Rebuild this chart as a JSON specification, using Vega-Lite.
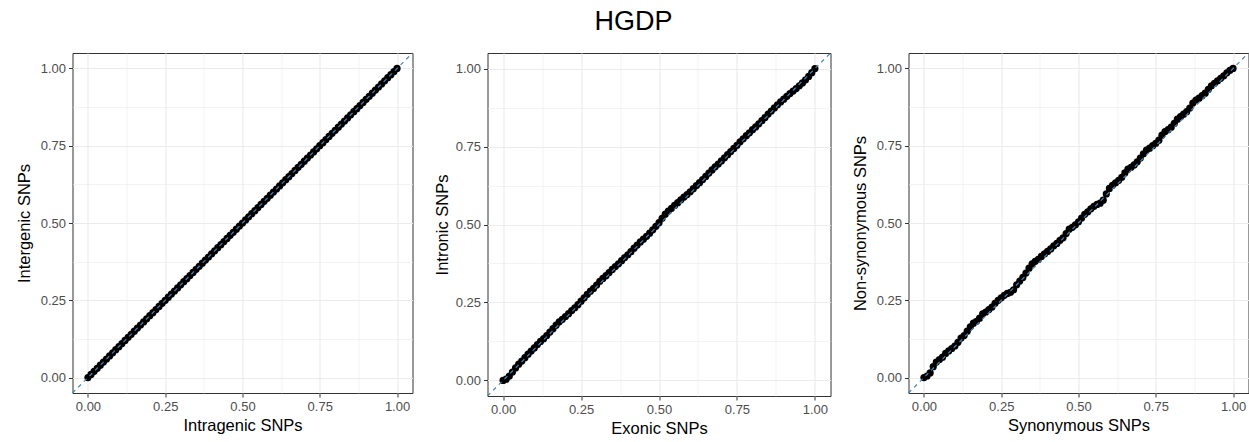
{
  "$schema": "https://vega.github.io/schema/vega-lite/v6.json",
  "background": "white",
  "padding": {"left": 15.5, "top": 8, "right": 2, "bottom": 2},
  "title": {"text": "HGDP", "fontSize": 27, "font": "Liberation Sans", "fontWeight": "normal", "anchor": "middle", "offset": 14, "color": "black"},
  "config": {
    "font": "Liberation Sans",
    "view": {"stroke": "#333333", "strokeWidth": 1},
    "axis": {
      "domain": false,
      "grid": true,
      "gridColor": "#EBEBEB",
      "tickColor": "#333333",
      "tickSize": 4,
      "labelPadding": 3,
      "labelColor": "#4D4D4D",
      "labelFontSize": 13,
      "labelFont": "Liberation Sans",
      "labelFlush": false,
      "labelOverlap": false,
      "titleFont": "Liberation Sans",
      "titleFontSize": 16.5,
      "titleFontWeight": "normal",
      "titleColor": "black"
    }
  },
  "datasets": {
    "diag": [{"x": -0.05, "y": -0.05}, {"x": 1.05, "y": 1.05}],
    "p1": [
      {"x":0.00,"y":0.00},{"x":0.01,"y":0.01},{"x":0.02,"y":0.02},{"x":0.03,"y":0.03},{"x":0.04,"y":0.04},{"x":0.05,"y":0.05},{"x":0.06,"y":0.06},{"x":0.07,"y":0.07},{"x":0.08,"y":0.08},{"x":0.09,"y":0.09},
      {"x":0.10,"y":0.10},{"x":0.11,"y":0.11},{"x":0.12,"y":0.12},{"x":0.13,"y":0.13},{"x":0.14,"y":0.14},{"x":0.15,"y":0.15},{"x":0.16,"y":0.16},{"x":0.17,"y":0.17},{"x":0.18,"y":0.18},{"x":0.19,"y":0.19},
      {"x":0.20,"y":0.20},{"x":0.21,"y":0.21},{"x":0.22,"y":0.22},{"x":0.23,"y":0.23},{"x":0.24,"y":0.24},{"x":0.25,"y":0.25},{"x":0.26,"y":0.26},{"x":0.27,"y":0.27},{"x":0.28,"y":0.28},{"x":0.29,"y":0.29},
      {"x":0.30,"y":0.30},{"x":0.31,"y":0.31},{"x":0.32,"y":0.32},{"x":0.33,"y":0.33},{"x":0.34,"y":0.34},{"x":0.35,"y":0.35},{"x":0.36,"y":0.36},{"x":0.37,"y":0.37},{"x":0.38,"y":0.38},{"x":0.39,"y":0.39},
      {"x":0.40,"y":0.40},{"x":0.41,"y":0.41},{"x":0.42,"y":0.42},{"x":0.43,"y":0.43},{"x":0.44,"y":0.44},{"x":0.45,"y":0.45},{"x":0.46,"y":0.46},{"x":0.47,"y":0.47},{"x":0.48,"y":0.48},{"x":0.49,"y":0.49},
      {"x":0.50,"y":0.50},{"x":0.51,"y":0.51},{"x":0.52,"y":0.52},{"x":0.53,"y":0.53},{"x":0.54,"y":0.54},{"x":0.55,"y":0.55},{"x":0.56,"y":0.56},{"x":0.57,"y":0.57},{"x":0.58,"y":0.58},{"x":0.59,"y":0.59},
      {"x":0.60,"y":0.60},{"x":0.61,"y":0.61},{"x":0.62,"y":0.62},{"x":0.63,"y":0.63},{"x":0.64,"y":0.64},{"x":0.65,"y":0.65},{"x":0.66,"y":0.66},{"x":0.67,"y":0.67},{"x":0.68,"y":0.68},{"x":0.69,"y":0.69},
      {"x":0.70,"y":0.70},{"x":0.71,"y":0.71},{"x":0.72,"y":0.72},{"x":0.73,"y":0.73},{"x":0.74,"y":0.74},{"x":0.75,"y":0.75},{"x":0.76,"y":0.76},{"x":0.77,"y":0.77},{"x":0.78,"y":0.78},{"x":0.79,"y":0.79},
      {"x":0.80,"y":0.80},{"x":0.81,"y":0.81},{"x":0.82,"y":0.82},{"x":0.83,"y":0.83},{"x":0.84,"y":0.84},{"x":0.85,"y":0.85},{"x":0.86,"y":0.86},{"x":0.87,"y":0.87},{"x":0.88,"y":0.88},{"x":0.89,"y":0.89},
      {"x":0.90,"y":0.90},{"x":0.91,"y":0.91},{"x":0.92,"y":0.92},{"x":0.93,"y":0.93},{"x":0.94,"y":0.94},{"x":0.95,"y":0.95},{"x":0.96,"y":0.96},{"x":0.97,"y":0.97},{"x":0.98,"y":0.98},{"x":0.99,"y":0.99},
      {"x":1.00,"y":1.00}
    ],
    "p2": [
      {"x":0.00,"y":0.000},{"x":0.01,"y":0.004},{"x":0.02,"y":0.014},{"x":0.03,"y":0.027},{"x":0.04,"y":0.040},{"x":0.05,"y":0.052},{"x":0.06,"y":0.062},{"x":0.07,"y":0.073},{"x":0.08,"y":0.084},{"x":0.09,"y":0.094},
      {"x":0.10,"y":0.104},{"x":0.11,"y":0.115},{"x":0.12,"y":0.125},{"x":0.13,"y":0.134},{"x":0.14,"y":0.144},{"x":0.15,"y":0.155},{"x":0.16,"y":0.166},{"x":0.17,"y":0.177},{"x":0.18,"y":0.188},{"x":0.19,"y":0.196},
      {"x":0.20,"y":0.205},{"x":0.21,"y":0.214},{"x":0.22,"y":0.224},{"x":0.23,"y":0.233},{"x":0.24,"y":0.243},{"x":0.25,"y":0.254},{"x":0.26,"y":0.265},{"x":0.27,"y":0.276},{"x":0.28,"y":0.286},{"x":0.29,"y":0.295},
      {"x":0.30,"y":0.306},{"x":0.31,"y":0.318},{"x":0.32,"y":0.327},{"x":0.33,"y":0.336},{"x":0.34,"y":0.346},{"x":0.35,"y":0.356},{"x":0.36,"y":0.365},{"x":0.37,"y":0.374},{"x":0.38,"y":0.384},{"x":0.39,"y":0.394},
      {"x":0.40,"y":0.403},{"x":0.41,"y":0.413},{"x":0.42,"y":0.424},{"x":0.43,"y":0.434},{"x":0.44,"y":0.444},{"x":0.45,"y":0.453},{"x":0.46,"y":0.462},{"x":0.47,"y":0.472},{"x":0.48,"y":0.483},{"x":0.49,"y":0.494},
      {"x":0.50,"y":0.506},{"x":0.51,"y":0.520},{"x":0.52,"y":0.533},{"x":0.53,"y":0.543},{"x":0.54,"y":0.552},{"x":0.55,"y":0.561},{"x":0.56,"y":0.570},{"x":0.57,"y":0.579},{"x":0.58,"y":0.588},{"x":0.59,"y":0.596},
      {"x":0.60,"y":0.605},{"x":0.61,"y":0.615},{"x":0.62,"y":0.625},{"x":0.63,"y":0.634},{"x":0.64,"y":0.644},{"x":0.65,"y":0.654},{"x":0.66,"y":0.665},{"x":0.67,"y":0.675},{"x":0.68,"y":0.685},{"x":0.69,"y":0.694},
      {"x":0.70,"y":0.704},{"x":0.71,"y":0.714},{"x":0.72,"y":0.724},{"x":0.73,"y":0.734},{"x":0.74,"y":0.744},{"x":0.75,"y":0.754},{"x":0.76,"y":0.765},{"x":0.77,"y":0.775},{"x":0.78,"y":0.785},{"x":0.79,"y":0.794},
      {"x":0.80,"y":0.804},{"x":0.81,"y":0.813},{"x":0.82,"y":0.823},{"x":0.83,"y":0.833},{"x":0.84,"y":0.843},{"x":0.85,"y":0.854},{"x":0.86,"y":0.864},{"x":0.87,"y":0.874},{"x":0.88,"y":0.884},{"x":0.89,"y":0.893},
      {"x":0.90,"y":0.902},{"x":0.91,"y":0.911},{"x":0.92,"y":0.920},{"x":0.93,"y":0.928},{"x":0.94,"y":0.936},{"x":0.95,"y":0.945},{"x":0.96,"y":0.954},{"x":0.97,"y":0.964},{"x":0.98,"y":0.975},{"x":0.99,"y":0.987},
      {"x":1.00,"y":1.000}
    ],
    "p3": [
      {"x":0.00,"y":0.000},{"x":0.01,"y":0.005},{"x":0.02,"y":0.015},{"x":0.03,"y":0.035},{"x":0.04,"y":0.050},{"x":0.05,"y":0.058},{"x":0.06,"y":0.066},{"x":0.07,"y":0.078},{"x":0.08,"y":0.086},{"x":0.09,"y":0.094},
      {"x":0.10,"y":0.102},{"x":0.11,"y":0.114},{"x":0.12,"y":0.128},{"x":0.13,"y":0.136},{"x":0.14,"y":0.150},{"x":0.15,"y":0.164},{"x":0.16,"y":0.176},{"x":0.17,"y":0.182},{"x":0.18,"y":0.192},{"x":0.19,"y":0.206},
      {"x":0.20,"y":0.212},{"x":0.21,"y":0.220},{"x":0.22,"y":0.228},{"x":0.23,"y":0.240},{"x":0.24,"y":0.250},{"x":0.25,"y":0.258},{"x":0.26,"y":0.266},{"x":0.27,"y":0.272},{"x":0.28,"y":0.276},{"x":0.29,"y":0.284},
      {"x":0.30,"y":0.300},{"x":0.31,"y":0.312},{"x":0.32,"y":0.324},{"x":0.33,"y":0.338},{"x":0.34,"y":0.354},{"x":0.35,"y":0.368},{"x":0.36,"y":0.376},{"x":0.37,"y":0.382},{"x":0.38,"y":0.392},{"x":0.39,"y":0.400},
      {"x":0.40,"y":0.408},{"x":0.41,"y":0.416},{"x":0.42,"y":0.426},{"x":0.43,"y":0.434},{"x":0.44,"y":0.444},{"x":0.45,"y":0.452},{"x":0.46,"y":0.466},{"x":0.47,"y":0.480},{"x":0.48,"y":0.486},{"x":0.49,"y":0.494},
      {"x":0.50,"y":0.504},{"x":0.51,"y":0.516},{"x":0.52,"y":0.528},{"x":0.53,"y":0.536},{"x":0.54,"y":0.546},{"x":0.55,"y":0.554},{"x":0.56,"y":0.560},{"x":0.57,"y":0.564},{"x":0.58,"y":0.574},{"x":0.59,"y":0.594},
      {"x":0.60,"y":0.612},{"x":0.61,"y":0.622},{"x":0.62,"y":0.630},{"x":0.63,"y":0.638},{"x":0.64,"y":0.648},{"x":0.65,"y":0.662},{"x":0.66,"y":0.674},{"x":0.67,"y":0.680},{"x":0.68,"y":0.688},{"x":0.69,"y":0.698},
      {"x":0.70,"y":0.710},{"x":0.71,"y":0.724},{"x":0.72,"y":0.736},{"x":0.73,"y":0.742},{"x":0.74,"y":0.750},{"x":0.75,"y":0.758},{"x":0.76,"y":0.768},{"x":0.77,"y":0.784},{"x":0.78,"y":0.796},{"x":0.79,"y":0.802},
      {"x":0.80,"y":0.810},{"x":0.81,"y":0.822},{"x":0.82,"y":0.836},{"x":0.83,"y":0.844},{"x":0.84,"y":0.852},{"x":0.85,"y":0.860},{"x":0.86,"y":0.872},{"x":0.87,"y":0.888},{"x":0.88,"y":0.898},{"x":0.89,"y":0.904},
      {"x":0.90,"y":0.912},{"x":0.91,"y":0.920},{"x":0.92,"y":0.932},{"x":0.93,"y":0.944},{"x":0.94,"y":0.952},{"x":0.95,"y":0.960},{"x":0.96,"y":0.968},{"x":0.97,"y":0.976},{"x":0.98,"y":0.986},{"x":0.99,"y":0.994},
      {"x":1.00,"y":1.000}
    ]
  },
  "spacing": 18,
  "hconcat": [
    {
      "width": 340, "height": 340,
      "encoding": {
        "x": {"field": "x", "type": "quantitative", "scale": {"domain": [-0.05, 1.05], "nice": false, "zero": false},
              "axis": {"title": "Intragenic SNPs", "titlePadding": 4, "values": [0, 0.125, 0.25, 0.375, 0.5, 0.625, 0.75, 0.875, 1],
                       "labelExpr": "(datum.value*4) % 1 == 0 ? format(datum.value, '.2f') : ''",
                       "tickOpacity": {"condition": {"test": "(datum.value*4) % 1 != 0", "value": 0}, "value": 1},
                       "gridWidth": {"condition": {"test": "(datum.value*4) % 1 != 0", "value": 0.6}, "value": 1.2}}},
        "y": {"field": "y", "type": "quantitative", "scale": {"domain": [-0.05, 1.05], "nice": false, "zero": false},
              "axis": {"title": "Intergenic SNPs", "titlePadding": 8, "values": [0, 0.125, 0.25, 0.375, 0.5, 0.625, 0.75, 0.875, 1],
                       "labelExpr": "(datum.value*4) % 1 == 0 ? format(datum.value, '.2f') : ''",
                       "tickOpacity": {"condition": {"test": "(datum.value*4) % 1 != 0", "value": 0}, "value": 1},
                       "gridWidth": {"condition": {"test": "(datum.value*4) % 1 != 0", "value": 0.6}, "value": 1.2}}}
      },
      "layer": [
        {"data": {"name": "p1"}, "mark": {"type": "point", "filled": true, "color": "black", "size": 52, "opacity": 1}},
        {"data": {"name": "diag"}, "mark": {"type": "line", "color": "#4682B4", "strokeDash": [4, 4], "strokeWidth": 1.2}, "encoding": {}}
      ]
    },
    {
      "width": 343, "height": 343,
      "encoding": {
        "x": {"field": "x", "type": "quantitative", "scale": {"domain": [-0.05, 1.05], "nice": false, "zero": false},
              "axis": {"title": "Exonic SNPs", "titlePadding": 4, "values": [0, 0.125, 0.25, 0.375, 0.5, 0.625, 0.75, 0.875, 1],
                       "labelExpr": "(datum.value*4) % 1 == 0 ? format(datum.value, '.2f') : ''",
                       "tickOpacity": {"condition": {"test": "(datum.value*4) % 1 != 0", "value": 0}, "value": 1},
                       "gridWidth": {"condition": {"test": "(datum.value*4) % 1 != 0", "value": 0.6}, "value": 1.2}}},
        "y": {"field": "y", "type": "quantitative", "scale": {"domain": [-0.05, 1.05], "nice": false, "zero": false},
              "axis": {"title": "Intronic SNPs", "titlePadding": 5, "values": [0, 0.125, 0.25, 0.375, 0.5, 0.625, 0.75, 0.875, 1],
                       "labelExpr": "(datum.value*4) % 1 == 0 ? format(datum.value, '.2f') : ''",
                       "tickOpacity": {"condition": {"test": "(datum.value*4) % 1 != 0", "value": 0}, "value": 1},
                       "gridWidth": {"condition": {"test": "(datum.value*4) % 1 != 0", "value": 0.6}, "value": 1.2}}}
      },
      "layer": [
        {"data": {"name": "p2"}, "mark": {"type": "point", "filled": true, "color": "black", "size": 52, "opacity": 1}},
        {"data": {"name": "diag"}, "mark": {"type": "line", "color": "#4682B4", "strokeDash": [4, 4], "strokeWidth": 1.2}, "encoding": {}}
      ]
    },
    {
      "width": 340, "height": 340,
      "encoding": {
        "x": {"field": "x", "type": "quantitative", "scale": {"domain": [-0.05, 1.05], "nice": false, "zero": false},
              "axis": {"title": "Synonymous SNPs", "titlePadding": 4, "values": [0, 0.125, 0.25, 0.375, 0.5, 0.625, 0.75, 0.875, 1],
                       "labelExpr": "(datum.value*4) % 1 == 0 ? format(datum.value, '.2f') : ''",
                       "tickOpacity": {"condition": {"test": "(datum.value*4) % 1 != 0", "value": 0}, "value": 1},
                       "gridWidth": {"condition": {"test": "(datum.value*4) % 1 != 0", "value": 0.6}, "value": 1.2}}},
        "y": {"field": "y", "type": "quantitative", "scale": {"domain": [-0.05, 1.05], "nice": false, "zero": false},
              "axis": {"title": "Non-synonymous SNPs", "titlePadding": 8, "values": [0, 0.125, 0.25, 0.375, 0.5, 0.625, 0.75, 0.875, 1],
                       "labelExpr": "(datum.value*4) % 1 == 0 ? format(datum.value, '.2f') : ''",
                       "tickOpacity": {"condition": {"test": "(datum.value*4) % 1 != 0", "value": 0}, "value": 1},
                       "gridWidth": {"condition": {"test": "(datum.value*4) % 1 != 0", "value": 0.6}, "value": 1.2}}}
      },
      "layer": [
        {"data": {"name": "p3"}, "mark": {"type": "point", "filled": true, "color": "black", "size": 52, "opacity": 1}},
        {"data": {"name": "diag"}, "mark": {"type": "line", "color": "#4682B4", "strokeDash": [4, 4], "strokeWidth": 1.2}, "encoding": {}}
      ]
    }
  ]
}
